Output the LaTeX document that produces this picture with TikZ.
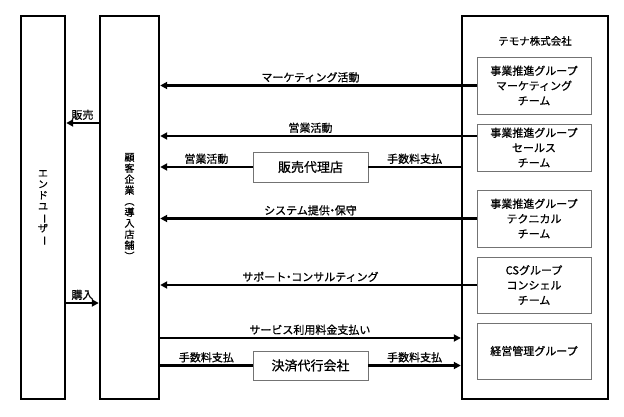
\documentclass[tikz,border=0pt]{standalone}
\usepackage{fontspec}
\setmainfont{Noto Sans CJK JP}[FakeBold=0.8]
\usetikzlibrary{arrows.meta}
\newcommand\vchoon{\raisebox{0pt}[.8em][.2em]{\rotatebox[origin=c]{-90}{ー}}}
\newcommand\vparen[1]{\raisebox{0pt}[.8em][.2em]{\rotatebox[origin=c]{-90}{#1}}}
\newcommand\hdot{\makebox[.45em]{・}}
\begin{document}
\begin{tikzpicture}[x=1pt,y=-1pt,
  bigbox/.style={draw, line width=2.4pt, inner sep=0pt},
  teambox/.style={draw=black!55, line width=0.9pt, minimum width=114pt, inner sep=0pt, align=center, font=\fontsize{11}{15}\selectfont},
  midbox/.style={draw=black!55, line width=0.9pt, minimum width=115pt, inner sep=0pt, font=\fontsize{13}{15}\selectfont},
  arr/.style={line width=2.2pt, -{Triangle[length=7pt,width=7pt]}},
  ln/.style={line width=2.2pt},
  lbl/.style={font=\fontsize{11}{13}\selectfont, inner sep=2pt},
  vtext/.style={align=center, font=\fontsize{10}{11}\selectfont, inner sep=0pt}]
\useasboundingbox (0,0) rectangle (624,417);

% main columns
\node[bigbox, minimum width=44pt, minimum height=383pt] (eu) at (43,207.5) {};
\node[vtext] (eut) at (eu) {エ\\ン\\ド\\ユ\\\vchoon\\ザ\\\vchoon};
\node[bigbox, minimum width=59pt, minimum height=383pt] (cust) at (129.5,207.5) {};
\node[vtext] (custt) at (cust) {顧\\客\\企\\業\\\vparen{（}\\導\\入\\店\\舗\\\vparen{）}};
\node[bigbox, minimum width=146pt, minimum height=383pt] (tem) at (535,207.5) {};
\node[font=\fontsize{10.5}{12}\selectfont] (tt) at (535,41) {テモナ株式会社};

% teams
\node[teambox, minimum height=57pt] (m1) at (534,85.5) {事業推進グループ\\マーケティング\\チーム};
\node[teambox, minimum height=47pt] (m2) at (534,147.5) {事業推進グループ\\セールス\\チーム};
\node[teambox, minimum height=57pt] (m3) at (534,218.5) {事業推進グループ\\テクニカル\\チーム};
\node[teambox, minimum height=56pt] (m4) at (534,285) {CSグループ\\コンシェル\\チーム};
\node[teambox, minimum height=56pt] (m5) at (534,351) {経営管理グループ};

% middle boxes
\node[midbox, minimum height=30pt] (ag) at (310.5,167) {販売代理店};
\node[midbox, minimum height=29pt] (pa) at (310.5,365.5) {決済代行会社};

% coordinates
\coordinate (s2) at ([yshift=11.5pt]m2.west);
\coordinate (svc) at (159,338);
\coordinate (sell) at ([yshift=84.5pt]cust.west);
\coordinate (buy) at ([yshift=-95.5pt]eu.east);

% connectors
\draw[arr] (m1.west) -- (m1.west -| cust.east) node[lbl, above, pos=0.525] {マーケティング活動};
\draw[arr] (s2) -- (s2 -| cust.east) node[lbl, above, pos=0.525] {営業活動};
\draw[arr] (ag.west) -- (ag.west -| cust.east) node[lbl, above, midway] {営業活動};
\draw[ln] (ag.east) -- (ag.east -| tem.west) node[lbl, above, midway] {手数料支払};
\draw[arr] (m3.west) -- (m3.west -| cust.east) node[lbl, above, pos=0.525] {システム提供\hdot 保守};
\draw[arr] (m4.west) -- (m4.west -| cust.east) node[lbl, above, pos=0.525] {サポート\hdot コンサルティング};
\draw[arr] (svc) -- (svc -| tem.west) node[lbl, above, midway] {サービス利用料金支払い};
\draw[ln] (pa.west) -- (pa.west -| cust.east) node[lbl, above, midway] {手数料支払};
\draw[arr] (pa.east) -- (pa.east -| tem.west) node[lbl, above, midway] {手数料支払};
\draw[arr] (sell) -- (sell -| eu.east) node[lbl, above, midway] {販売};
\draw[arr] (buy) -- (buy -| cust.west) node[lbl, above, midway] {購入};
\end{tikzpicture}
\end{document}
